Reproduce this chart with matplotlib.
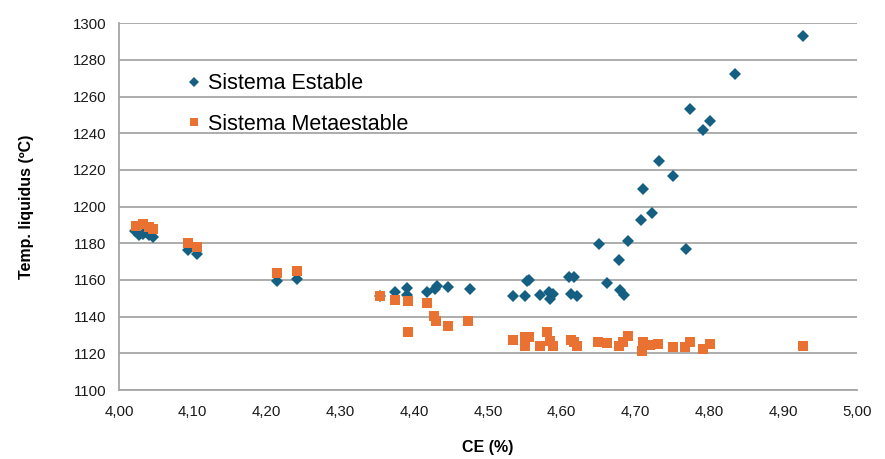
import matplotlib
matplotlib.use("Agg")
import matplotlib.pyplot as plt
from matplotlib.ticker import FuncFormatter, MultipleLocator

plt.rcParams['font.family'] = ['Liberation Sans', 'DejaVu Sans']

# Sistema Estable (blue diamonds)
ce_estable = [4.022, 4.027, 4.033, 4.037, 4.040, 4.046, 4.093, 4.106, 4.214, 4.241,
              4.354, 4.374, 4.390, 4.390, 4.418, 4.428, 4.431, 4.446, 4.475,
              4.534, 4.550, 4.553, 4.556, 4.570, 4.582, 4.584, 4.588, 4.610, 4.616,
              4.613, 4.621, 4.650, 4.661, 4.677, 4.679, 4.684, 4.690, 4.707, 4.710,
              4.722, 4.732, 4.751, 4.768, 4.774, 4.791, 4.801, 4.835, 4.927]
t_estable = [1186.5, 1184.5, 1185, 1186, 1184.5, 1183.5, 1176.5, 1174.2, 1159.5, 1160.5,
             1151, 1153.5, 1155.5, 1152, 1153.5, 1155, 1156.5, 1156, 1155,
             1151, 1151.5, 1159.5, 1160, 1152, 1153.5, 1149.5, 1152.5, 1161.5, 1161.5,
             1152.5, 1151.5, 1179.5, 1158.5, 1171, 1154.5, 1152, 1181, 1192.5, 1209.5,
             1196.5, 1225, 1216.5, 1177, 1253.5, 1242, 1246.5, 1272.5, 1293]

# Sistema Metaestable (orange squares)
ce_meta = [4.023, 4.033, 4.040, 4.046, 4.093, 4.106, 4.214, 4.241,
           4.354, 4.374, 4.391, 4.391, 4.417, 4.427, 4.430, 4.446, 4.473,
           4.534, 4.550, 4.555, 4.550, 4.570, 4.580, 4.584, 4.588, 4.613, 4.617,
           4.621, 4.649, 4.661, 4.677, 4.683, 4.690, 4.708, 4.710, 4.719, 4.731,
           4.751, 4.767, 4.774, 4.791, 4.801, 4.927]
t_meta = [1189.5, 1190.5, 1189, 1188, 1180, 1178, 1164, 1164.8,
          1151.5, 1149, 1148.5, 1131.5, 1147.5, 1140.5, 1137.5, 1135, 1137.5,
          1127, 1129, 1129, 1124, 1124, 1131.5, 1126.5, 1124, 1127, 1126,
          1124, 1126, 1125.5, 1124, 1126, 1129.5, 1121.5, 1126, 1124.5, 1125,
          1123.5, 1123.5, 1126, 1122.5, 1125, 1124]

label_estable = "Sistema Estable"
label_meta = "Sistema Metaestable"

fig = plt.figure(figsize=(8.85, 4.59), dpi=100)
ax = fig.add_axes([119/885, 1 - 390/459, 738/885, (390 - 23.3)/459])

blue = "#156082"
orange = "#E97132"

ax.plot(ce_estable, t_estable, linestyle='none', marker='D', markersize=5.8,
        color=blue, markeredgewidth=0, label=label_estable, zorder=3)
ax.plot(ce_meta, t_meta, linestyle='none', marker='s', markersize=6.5,
        color=orange, markeredgewidth=0, label=label_meta, zorder=3)

ax.set_xlim(4.0, 5.0)
ax.set_ylim(1100, 1300)
ax.xaxis.set_major_locator(MultipleLocator(0.1))
ax.yaxis.set_major_locator(MultipleLocator(20))
ax.xaxis.set_major_formatter(FuncFormatter(lambda v, p: f"{v:.2f}".replace('.', ',')))
ax.yaxis.set_major_formatter(FuncFormatter(lambda v, p: f"{v:.0f}"))

ax.grid(axis='y', color='#a6a6a6', linewidth=1.3, zorder=0)
ax.set_axisbelow(True)
for s in ['top', 'right']:
    ax.spines[s].set_visible(False)
for s in ['left', 'bottom']:
    ax.spines[s].set_color('#a6a6a6')
    ax.spines[s].set_linewidth(1.3)
ax.tick_params(axis='both', length=0, labelsize=10.8, colors='#1a1a1a')
ax.tick_params(axis='x', pad=11)
ax.tick_params(axis='y', pad=9)

ax.set_xlabel("CE (%)", fontsize=11.5, fontweight='bold', labelpad=15)
ax.set_ylabel("Temp. liquidus (ºC)", fontsize=11.5, fontweight='bold', labelpad=28)

leg = ax.legend(loc='upper left', bbox_to_anchor=(0.066, 0.905), frameon=False,
                fontsize=15.5, handletextpad=0.15, labelspacing=0.9, markerscale=0.9,
                handlelength=1.0, borderpad=0.2)

fig.savefig("out.png", dpi=100)
